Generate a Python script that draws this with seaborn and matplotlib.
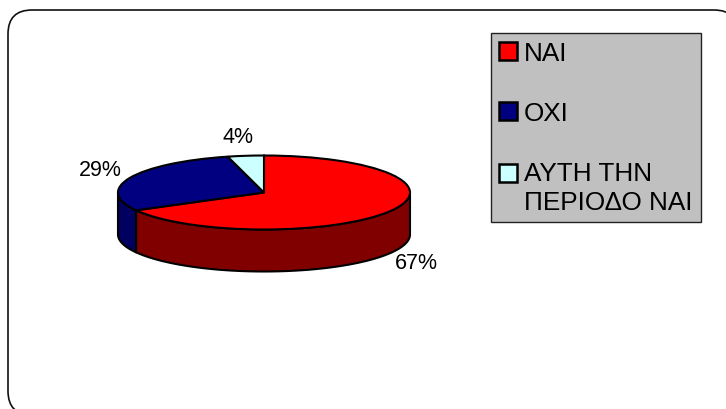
import numpy as np
import matplotlib
matplotlib.use("Agg")
import matplotlib.pyplot as plt
from matplotlib.patches import FancyBboxPatch, Patch
from matplotlib.transforms import Affine2D, IdentityTransform
import seaborn as sns

categories = ["ΝΑΙ", "ΟΧΙ", "ΑΥΤΗ ΤΗΝ\nΠΕΡΙΟΔΟ ΝΑΙ"]
values = [67, 29, 4]
top_colors = ["#ff0000", "#000080", "#ccffff"]
side_colors = ["#800000", "#000060", "#668080"]

W, H = 726, 410
CX, CY, RX, RY, DEPTH = 264, 193.5, 146, 37, 42

sns.set_theme(style="white")
plt.rcParams["font.family"] = ["Liberation Sans", "DejaVu Sans"]

fig = plt.figure(figsize=(W / 100, H / 100), dpi=100, facecolor="white")
ax = fig.add_axes([0, 0, 1, 1])

# pixel coordinates with the origin at the top left
px = Affine2D().scale(1, -1).translate(0, H)

fig.add_artist(FancyBboxPatch((8, 11), 730, 405, boxstyle="round,pad=0,rounding_size=24",
                              transform=px, fc="white", ec="#111111", lw=1.2, zorder=-1))

wedges, _ = ax.pie(values, colors=top_colors, startangle=90, counterclock=False,
                   radius=1, wedgeprops=dict(edgecolor="black", linewidth=1.5, zorder=3))
ax.set_aspect("auto")
ax.set_xlim(-CX / RX, (W - CX) / RX)
ax.set_ylim((CY - H) / RY, CY / RY)
ax.set_axis_off()
ax.patch.set_alpha(0)

# side wall: the part of each slice's rim that faces the viewer
d = DEPTH / RY
ends = 90 - np.cumsum(values) * 3.6
starts = np.r_[90, ends[:-1]]
for a0, a1, col in zip(starts, ends, side_colors):
    for shift in (0, 360):
        l, h = max(a1 + shift, -180), min(a0 + shift, 0)
        if h > l:
            t = np.radians(np.linspace(l, h, 120))
            x = np.cos(t)
            y = np.sin(t)
            ax.fill(np.r_[x, x[::-1]], np.r_[y, y[::-1] - d], fc=col, ec="black",
                    lw=1.5, zorder=2, joinstyle="round")

label_pos = [(416, 264), (100, 171), (238, 138)]
for v, (lx, ly) in zip(values, label_pos):
    fig.text(lx, ly, f"{v}%", transform=px, ha="center", va="center",
             fontsize=15.5, color="black")

handles = [Patch(fc=c, ec="black", lw=1.8) for c in top_colors]
leg = fig.legend(handles, categories, loc="upper left", bbox_to_anchor=(491, H - 34),
                 bbox_transform=IdentityTransform(), fontsize=18.8, frameon=True, fancybox=False,
                 facecolor="#c0c0c0", edgecolor="#222222", framealpha=1,
                 handlelength=0.68, handleheight=0.68, handletextpad=0.27,
                 labelspacing=1.38, borderpad=0.32, borderaxespad=0, labelcolor="black")
leg.get_frame().set_linewidth(1.0)
leg.get_texts()[2].set_linespacing(1.22)
h3 = leg.legend_handles[2]
h3.set_y(h3.get_y() + 11)

fig.savefig("out.png", dpi=100)
